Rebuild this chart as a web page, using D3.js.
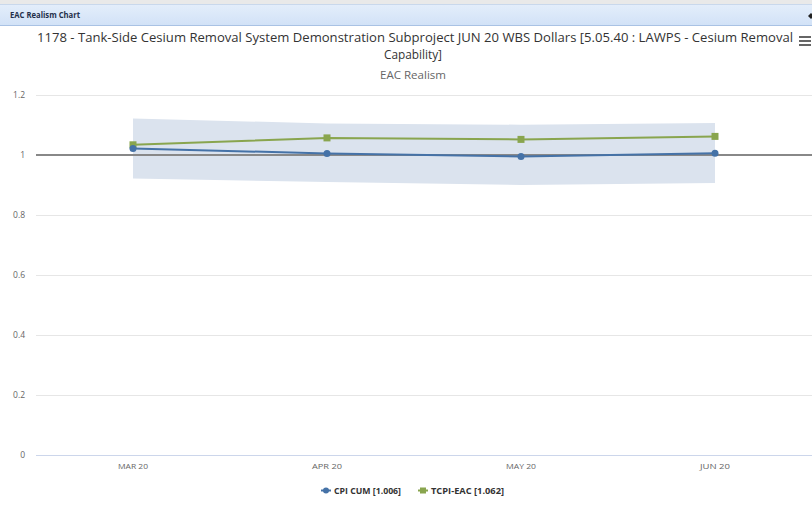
<!DOCTYPE html>
<html>
<head>
<meta charset="utf-8">
<script src="https://cdn.jsdelivr.net/npm/d3@7"></script>
<style>
  html, body { margin: 0; padding: 0; background: #fff; }
  svg { display: block; font-family: "Open Sans", "DejaVu Sans", sans-serif; }
</style>
</head>
<body>
<svg id="chart" width="812" height="512"></svg>
<script>
const categories = ["MAR 20", "APR 20", "MAY 20", "JUN 20"];
const cpiCum = [1.022, 1.005, 0.995, 1.006];
const tcpiEac = [1.034, 1.057, 1.052, 1.062];
const bandLow = [0.922, 0.910, 0.900, 0.907];
const bandHigh = [1.122, 1.105, 1.101, 1.107];
const yTicks = [0, 0.2, 0.4, 0.6, 0.8, 1, 1.2];
const yTickLabels = ["0", "0.2", "0.4", "0.6", "0.8", "1", "1.2"];
const plotLineValue = 1;
const legendLabels = ["CPI CUM [1.006]", "TCPI-EAC [1.062]"];
const titleLines = ["1178 - Tank-Side Cesium Removal System Demonstration Subproject JUN 20 WBS Dollars [5.05.40 : LAWPS - Cesium Removal", "Capability]"];
const subtitle = "EAC Realism";
const headerText = "EAC Realism Chart";

const svg = d3.select("#chart");
const W = 812, H = 512;

// header
const defs = svg.append("defs");
const grad = defs.append("linearGradient").attr("id", "hdr").attr("x1", 0).attr("y1", 0).attr("x2", 0).attr("y2", 1);
grad.append("stop").attr("offset", "0%").attr("stop-color", "#e4eefb");
grad.append("stop").attr("offset", "100%").attr("stop-color", "#d2e2f7");
svg.append("rect").attr("x", 0).attr("y", 0).attr("width", W).attr("height", 4).attr("fill", "#e9e9e9");
svg.append("rect").attr("x", 0).attr("y", 4).attr("width", W).attr("height", 21).attr("fill", "url(#hdr)");
svg.append("line").attr("x1", 0).attr("x2", W).attr("y1", 4.5).attr("y2", 4.5).attr("stroke", "#c9d8ec");
svg.append("line").attr("x1", 0).attr("x2", W).attr("y1", 25.5).attr("y2", 25.5).attr("stroke", "#a9c2e4");
svg.append("text").attr("x", 10).attr("y", 18).attr("font-size", 8.5).attr("font-weight", "bold")
  .attr("fill", "#1f2f4a").attr("textLength", 70).attr("lengthAdjust", "spacingAndGlyphs").text(headerText);
svg.append("path").attr("d", "M808,16 L811,13 L814,16 L811,19 Z").attr("fill", "#222");

// title
const titleWidths = [756, 58];
const titleCx = [415, 413];
const titleY = [42, 59];
titleLines.forEach((t, i) => {
  svg.append("text").attr("x", titleCx[i]).attr("y", titleY[i]).attr("text-anchor", "middle")
    .attr("font-size", 12).attr("fill", "#333").attr("textLength", titleWidths[i])
    .attr("lengthAdjust", "spacingAndGlyphs").text(t);
});
svg.append("text").attr("x", 413).attr("y", 79).attr("text-anchor", "middle")
  .attr("font-size", 11).attr("fill", "#666").attr("textLength", 66)
  .attr("lengthAdjust", "spacingAndGlyphs").text(subtitle);

// hamburger
[37, 41, 45].forEach(y => {
  svg.append("rect").attr("x", 799).attr("y", y - 1).attr("width", 12).attr("height", 2).attr("fill", "#666");
});

// scales
const x = d3.scaleBand().domain(categories).range([36, 812]).padding(0);
const cx = d => x(d) + x.bandwidth() / 2;
const y = d3.scaleLinear().domain([0, 1.2]).range([455, 95]);

// gridlines
svg.append("g").selectAll("line").data(yTicks.filter(v => v !== 0)).join("line")
  .attr("x1", 36).attr("x2", 812).attr("y1", d => Math.round(y(d)) + 0.5).attr("y2", d => Math.round(y(d)) + 0.5)
  .attr("stroke", "#e6e6e6").attr("stroke-width", 1);

// x axis line
svg.append("line").attr("x1", 36).attr("x2", 812).attr("y1", y(0) + 0.5).attr("y2", y(0) + 0.5)
  .attr("stroke", "#ccd6eb").attr("stroke-width", 1);

// y labels
svg.append("g").selectAll("text").data(yTicks).join("text")
  .attr("x", 25).attr("y", d => y(d) + 3).attr("text-anchor", "end")
  .attr("font-size", 8.5).attr("fill", "#666").text((d, i) => yTickLabels[i]);

// x labels
svg.append("g").selectAll("text").data(categories).join("text")
  .attr("x", d => cx(d)).attr("y", 469).attr("text-anchor", "middle")
  .attr("font-size", 8).attr("fill", "#666").attr("textLength", 30)
  .attr("lengthAdjust", "spacingAndGlyphs").text(d => d);

// band
const area = d3.area().x((d, i) => cx(categories[i])).y0((d, i) => y(bandLow[i])).y1(d => y(d));
svg.append("path").datum(bandHigh).attr("d", area).attr("fill", "#dbe3ee");

// plot line at 1
svg.append("line").attr("x1", 36).attr("x2", 812).attr("y1", y(plotLineValue)).attr("y2", y(plotLineValue))
  .attr("stroke", "#888").attr("stroke-width", 2);

const line = d3.line().x((d, i) => cx(categories[i])).y(d => y(d));
const blue = "#4572A7", green = "#89A54E";

// TCPI-EAC
svg.append("path").datum(tcpiEac).attr("d", line).attr("fill", "none").attr("stroke", green).attr("stroke-width", 2);
svg.append("g").selectAll("rect").data(tcpiEac).join("rect")
  .attr("x", (d, i) => cx(categories[i]) - 3.5).attr("y", d => y(d) - 3.5)
  .attr("width", 7).attr("height", 7).attr("fill", green);

// CPI CUM
svg.append("path").datum(cpiCum).attr("d", line).attr("fill", "none").attr("stroke", blue).attr("stroke-width", 2);
svg.append("g").selectAll("circle").data(cpiCum).join("circle")
  .attr("cx", (d, i) => cx(categories[i])).attr("cy", d => y(d)).attr("r", 3.5).attr("fill", blue);

// legend
const legendX = [321, 418];
const legendTextW = [67, 73];
const legendColors = [blue, green];
legendLabels.forEach((lab, i) => {
  const g = svg.append("g");
  g.append("line").attr("x1", legendX[i]).attr("x2", legendX[i] + 10).attr("y1", 490.5).attr("y2", 490.5)
    .attr("stroke", legendColors[i]).attr("stroke-width", 2);
  if (i === 0) {
    g.append("circle").attr("cx", legendX[i] + 5).attr("cy", 490.5).attr("r", 3).attr("fill", blue);
  } else {
    g.append("rect").attr("x", legendX[i] + 2).attr("y", 487.5).attr("width", 6).attr("height", 6).attr("fill", green);
  }
  g.append("text").attr("x", legendX[i] + 13).attr("y", 494).attr("font-size", 9).attr("font-weight", "bold")
    .attr("fill", "#333").attr("textLength", legendTextW[i]).attr("lengthAdjust", "spacingAndGlyphs").text(lab);
});
</script>
</body>
</html>
